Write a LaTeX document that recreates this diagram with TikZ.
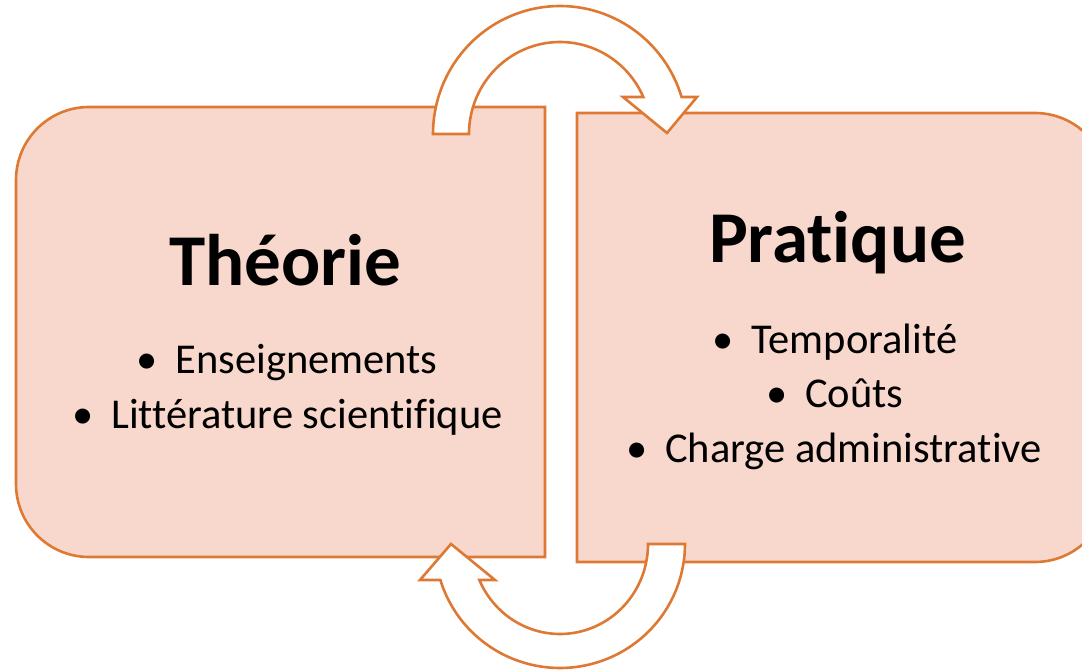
\documentclass[tikz,border=0pt]{standalone}
\usepackage{fontspec}
\setmainfont{Carlito}[Ligatures=NoCommon]
\definecolor{boxfill}{RGB}{248,216,204}
\definecolor{boxline}{RGB}{222,121,52}
\tikzset{
  boxshape/.style={fill=boxfill, draw=boxline, line width=2.6pt},
  arrowshape/.style={fill=white, draw=boxline, line width=2.6pt, line join=miter},
  titletext/.style={anchor=base, inner sep=0pt, font=\fontsize{73}{73}\selectfont\bfseries},
  itemtext/.style={anchor=base, inner sep=0pt, font=\fontsize{42.5}{42.5}\selectfont}
}
\newcommand{\bul}{\textbullet\hspace{0.42em}}
\begin{document}
\begin{tikzpicture}[x=1pt,y=-1pt]
\useasboundingbox (0,0) rectangle (1082,671);
\clip (0,0) rectangle (1082,671);
% left box
\draw[boxshape] (545,107) -- (89,107) .. controls (48.7,107) and (16,139.7) .. (16,180)
  -- (16,484) .. controls (16,524.3) and (48.7,557) .. (89,557) -- (545,557) -- cycle;
% right box
\draw[boxshape] (577,113) -- (1035,113) .. controls (1075.3,113) and (1108,145.7) .. (1108,186)
  -- (1108,489) .. controls (1108,529.3) and (1075.3,562) .. (1035,562) -- (577,562) -- cycle;
% top curved arrow
\draw[arrowshape] plot[domain=180:16.8,samples=80] ({560+127*cos(\x)},{134-128*sin(\x)})
  -- (697,97) -- (667,133) -- (623,97)
  -- plot[domain=23.7:180,samples=80] ({560+91*cos(\x)},{134-92*sin(\x)}) -- cycle;
% bottom curved arrow
\draw[arrowshape] plot[domain=0:163.1,samples=80] ({560+125*cos(\x)},{544+124*sin(\x)})
  -- (420,580) -- (451,544) -- (495,580)
  -- plot[domain=156.4:0,samples=80] ({560+88*cos(\x)},{544+90*sin(\x)}) -- cycle;
% texts
\node[titletext] (theorie) at (285,285) {Théorie};
\node[itemtext] (ens) at (287,373) {\bul Enseignements};
\node[itemtext] (litt) at (287.5,428) {\bul Littérature scientifique};
\node[titletext] (pratique) at (837.5,263) {Pratique};
\node[itemtext] (temp) at (835,353) {\bul Temporalité};
\node[itemtext] (couts) at (835,407) {\bul Coûts};
\node[itemtext] (charge) at (834,462) {\bul Charge administrative};
\end{tikzpicture}
\end{document}
